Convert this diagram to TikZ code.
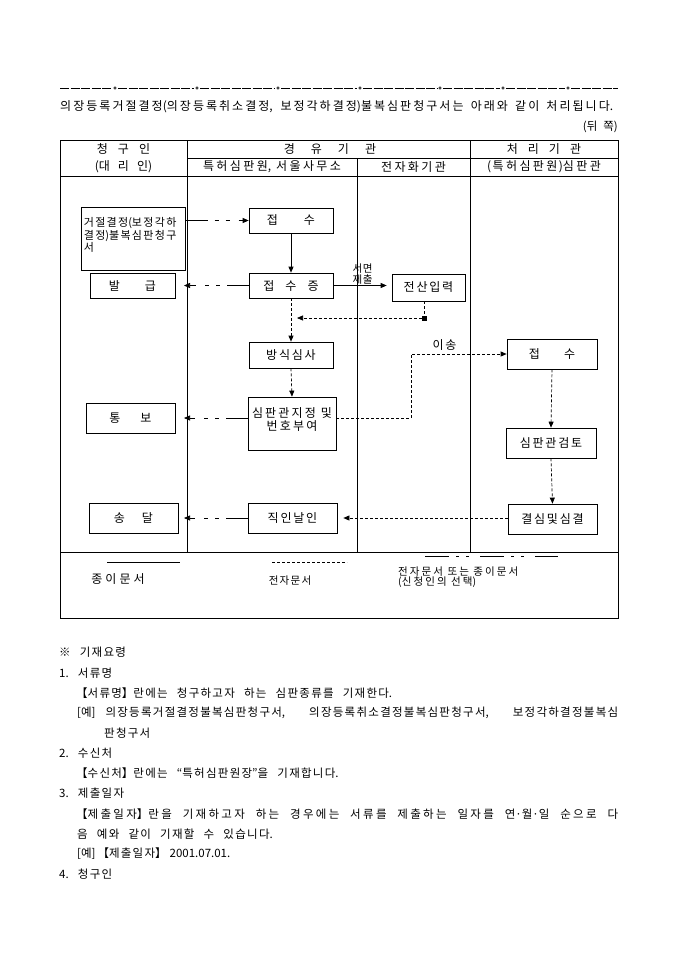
\documentclass[tikz,border=0pt]{standalone}
\usepackage{fontspec}
\setmainfont{Noto Sans CJK KR}
\usetikzlibrary{arrows.meta}
% letter spacing between Hangul syllables
\def\hgk{0.11em}
\XeTeXinterchartokenstate=1
\newXeTeXintercharclass\hgcls
\newcount\hgcnt
\hgcnt="AC00
\loop
  \XeTeXcharclass\hgcnt=\hgcls
  \ifnum\hgcnt<"D7A3 \advance\hgcnt by 1
\repeat
\XeTeXinterchartoks\hgcls\hgcls={\kern\hgk\relax}
% font size, leading, letter spacing, word space
\newcommand{\setf}[4]{\fontsize{#1}{#2}\selectfont\def\hgk{#3}%
  \spaceskip=#4 plus 0.5em minus 0.1em\relax
  \xspaceskip=#4 plus 0.5em minus 0.1em\relax}
\newcommand{\gp}[1]{\hspace{#1pt}}
\newcommand{\bxf}{\setf{12pt}{12pt}{0.15em}{0.42em}}
\newcommand{\hdf}{\setf{12pt}{12pt}{0.2em}{0.42em}}
\newcommand{\txf}{\setf{11.5pt}{13pt}{0.11em}{0.8em}}
\newcommand{\smf}{\setf{10.5pt}{10pt}{0.2em}{0.42em}}
\begin{document}
\begin{tikzpicture}[x=1pt,y=-1pt,
  ln/.style={line width=0.7pt},
  bx/.style={draw, line width=0.7pt, inner sep=1pt, font=\bxf},
  dt/.style={line width=0.7pt, dash pattern=on 3pt off 2pt},
  mx/.style={line width=0.7pt, dash pattern=on 22pt off 7pt on 4pt off 7pt on 4pt off 9pt},
  arr/.style={-{Triangle[length=6pt,width=5pt]}},
  tx/.style={font=\txf, inner sep=0pt, anchor=west},
  hd/.style={font=\hdf, inner sep=0pt}
]
\useasboundingbox (0,0) rectangle (680,962);
\fill[white] (0,0) rectangle (680,962);

% top separator line with small circles
\foreach \a/\b in {60/112,118/194,200/275,281/357,363/437,443/500,506/565,571/618}
  \draw[line width=0.7pt, dash pattern=on 9pt off 1.5pt] (\a,88) -- (\b,88);
\foreach \c in {115,197,278,360,440,503,568}
  \draw[line width=0.5pt] (\c,88) circle (1.2);

\node[tx, font=\setf{12pt}{13pt}{0.17em}{0.42em}, anchor=west] (title) at (60,107)
  {\makebox[553pt][s]{의장등록거절결정(의장등록취소결정, 보정각하결정)불복심판청구서는 아래와 같이 처리됩니다.}};
\node[tx, anchor=east] (back) at (618,127) {(뒤\gp{6}쪽)};

% table frame
\draw[ln] (60,140) rectangle (618,618);
\draw[ln] (187,158) -- (618,158);
\draw[ln] (60,176) -- (618,176);
\draw[ln] (60,552) -- (618,552);
\draw[ln] (187,140) -- (187,552);
\draw[ln] (470,140) -- (470,552);
\draw[ln] (357,158) -- (357,552);

% headers
\node[hd] (h1) at (123.5,149) {청\gp{10}구\gp{10}인};
\node[hd] (h2) at (123.5,167) {(대\gp{8}리\gp{8}인)};
\node[hd] (h3) at (330,149) {경\gp{16}유\gp{16}기\gp{16}관};
\node[hd] (h4) at (544,149) {처\gp{10}리\gp{10}기\gp{10}관};
\node[hd] (h5) at (272,167) {특허심판원, 서울사무소};
\node[hd] (h6) at (413.5,167) {전자화기관};
\node[hd] (h7) at (544,167) {(\gp{1.5}특허심판원\gp{1.5})심판관};

% boxes
\node[bx, font=\setf{11pt}{10.5pt}{0.12em}{0.42em}, minimum width=104, minimum height=63, anchor=north west, align=left,
      text width=99, inner xsep=2.5pt] (geojeol) at (81,207)
      {거절결정(보정각하\\결정)불복심판청구\\서\\[-2pt]~};
\node[bx, minimum width=84, minimum height=25] (jeopsu1) at (291,220.5) {접\gp{26}수};
\node[bx, minimum width=84, minimum height=25] (jeung) at (291,285.5) {접\gp{11}수\gp{11}증};
\node[bx, minimum width=85, minimum height=25] (balgeup) at (132.5,285.5) {발\gp{25}급};
\node[bx, minimum width=73, minimum height=27] (jeonsan) at (428.5,287.5) {전산입력};
\node[bx, minimum width=84, minimum height=26] (bangsik) at (291,355) {방식심사};
\node[bx, font=\setf{12pt}{13pt}{0.18em}{0.42em}, minimum width=88, minimum height=53, align=center] (simpan) at (292,423.5)
      {심판관지정 및\\번호부여\\[-5pt]~};
\node[bx, minimum width=89, minimum height=30] (tongbo) at (130.5,418) {통\gp{20}보};
\node[bx, minimum width=89, minimum height=30] (songdal) at (133.5,518) {송\gp{17}달};
\node[bx, minimum width=89, minimum height=30] (jigin) at (292.5,518) {직인날인};
\node[bx, minimum width=90, minimum height=30] (jeopsu2) at (552,354) {접\gp{24}수};
\node[bx, minimum width=90, minimum height=30] (geomto) at (551,443) {심판관검토};
\node[bx, minimum width=89, minimum height=30] (gyeolsim) at (552.5,519) {결심및심결};

\node[fill=black, minimum size=5pt, inner sep=0pt] (sq) at (424.5,318) {};
\coordinate (sqtip) at (297,318);
\coordinate (colA) at (184,0);
\coordinate (bend) at (411,0);

% connectors
\draw[mx,arr] (geojeol.east |- jeopsu1.west) -- (jeopsu1.west);
\draw[ln,arr] (jeopsu1.south) -- (jeung.north);
\draw[mx,arr] (jeung.west) -- (jeung.west -| colA);
\draw[ln,arr,shorten >=5pt] (jeung.east) -- node[above=1pt, align=center, inner sep=0pt,
   font=\setf{10.5pt}{10.5pt}{0.05em}{0.42em}]
   {서면\\제출} (jeung.east -| jeonsan.west);
\draw[dt] (sq |- jeonsan.south) -- (sq.north);
\draw[dt,arr] (sq.west) -- (sqtip);
\draw[dt,arr] (jeung.south) -- (bangsik.north);
\draw[dt,arr] (bangsik.south) -- (simpan.north);
\draw[mx,arr] (simpan.west |- tongbo) -- (tongbo -| colA);
\draw[dt,arr] (simpan.east |- tongbo) -| (bend |- jeopsu2.west) -- node[above=3pt, font=\bxf, inner sep=0pt, pos=0.35]{이송} (jeopsu2.west);
\draw[dt,arr] (jeopsu2.south) -- (geomto.north);
\draw[dt,arr] (geomto.south) -- (gyeolsim.north);
\draw[dt,arr,shorten >=6pt] (gyeolsim.west |- jigin) -- (jigin.east);
\draw[mx,arr] (jigin.west) -- (jigin -| colA);

% legend
\coordinate (l1a) at (107,562); \coordinate (l1b) at (180,562);
\coordinate (l2a) at (272,562); \coordinate (l2b) at (347,562);
\coordinate (l3a) at (425,556); \coordinate (l3b) at (558,556);
\draw[ln] (l1a) -- (l1b);
\draw[dt] (l2a) -- (l2b);
\draw[line width=0.9pt, dash pattern=on 24pt off 7pt on 3pt off 7pt on 3pt off 11pt] (l3a) -- (l3b);
\node[hd, font=\setf{12pt}{12pt}{0.25em}{0.42em}] (lg1) at (118,579) {종이문서};
\node[hd, font=\setf{10.5pt}{10pt}{0.12em}{0.42em}] (lg2) at (290,581) {전자문서};
\node[hd, font=\smf, align=left, anchor=west] (lg3) at (398,577) {전자문서 또는 종이문서\\(신청인의 선택)};

% instructions
\node[tx] (i0) at (59,652) {※ 기재요령};
\node[tx] (i1) at (59,673) {1. 서류명};
\node[tx] (i2) at (76,693) {【서류명】란에는 청구하고자 하는 심판종류를 기재한다.};
\node[tx] (i3) at (77,713) {\makebox[541pt][s]{[예]\gp{10}의장등록거절결정불복심판청구서, 의장등록취소결정불복심판청구서, 보정각하결정불복심}};
\node[tx] (i4) at (104,733) {판청구서};
\node[tx] (i5) at (59,753) {2. 수신처};
\node[tx] (i6) at (76,773) {【수신처】란에는 “특허심판원장”을 기재합니다.};
\node[tx] (i7) at (59,793) {3. 제출일자};
\node[tx, font=\setf{11.5pt}{13pt}{0.2em}{0.6em}] (i8) at (76,814) {\makebox[542pt][s]{【제출일자】란을 기재하고자 하는 경우에는 서류를 제출하는 일자를 연·월·일 순으로 다}};
\node[tx] (i9) at (77,834) {음 예와 같이 기재할 수 있습니다.};
\node[tx] (i10) at (77,854) {[예]\gp{2}【제출일자】\gp{3}2001.07.01.};
\node[tx] (i11) at (59,874) {4. 청구인};
\end{tikzpicture}
\end{document}
